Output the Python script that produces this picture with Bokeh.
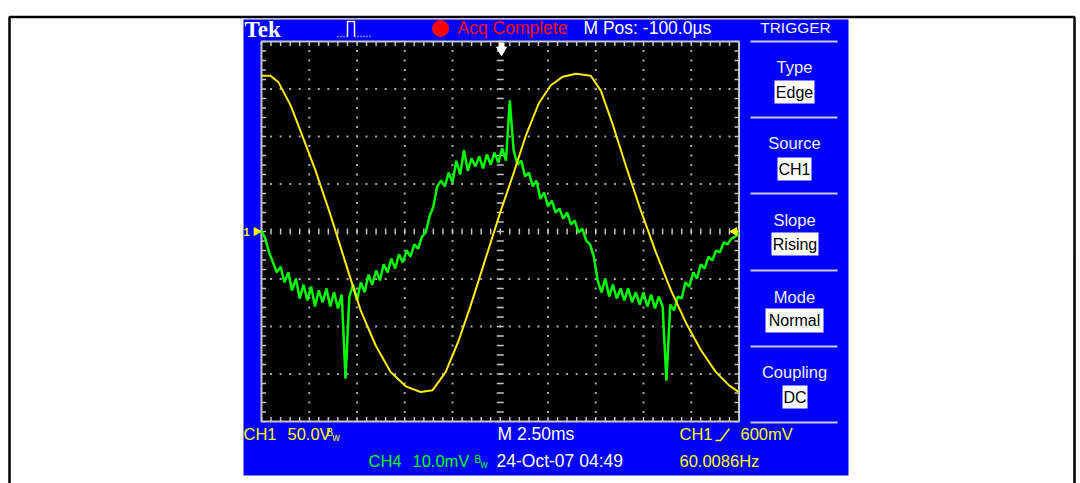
import numpy as np
from bokeh.plotting import figure
from bokeh.models import Range1d, Label
from bokeh.embed import file_html
from bokeh.resources import INLINE

# CH1 (yellow): time in ms, voltage in V (50.0 V/div)
ch1_t = [-12.5, -12.03, -11.61, -10.98, -10.46, -9.67, -8.88, -8.10, -7.31, -6.52,
         -5.74, -4.95, -4.17, -3.54, -2.86, -2.18, -1.55, -0.76, 0.03, 0.66,
         1.34, 2.02, 2.65, 3.28, 3.96, 4.74, 5.27, 5.90, 6.58, 7.36,
         8.15, 8.94, 9.72, 10.51, 11.29, 11.98, 12.5]
ch1_v = [164, 164, 157, 133, 106, 64, 17, -33, -83, -120,
         -148, -163, -169, -167, -148, -115, -78, -28, 22, 59,
         101, 135, 154, 163, 166, 164, 148, 112, 69, 22,
         -22, -62, -96, -125, -148, -162, -169]

# CH4 (green): sampled every 0.2 ms, value in mV (10.0 mV/div)
ch4_t = np.round(np.arange(126) * 0.2 - 12.5, 1)
ch4_mv = [0.2, -1.5, -4.4, -6.5, -8.6, -7.4, -10.7, -8.6, -12.4, -9.9,
          -14.1, -11.2, -14.5, -11.6, -15.8, -12.4, -14.9, -12.0, -15.8, -12.8,
          -16.2, -13.3, -31.0, -13.7, -11.2, -14.5, -10.7, -12.8, -9.1, -11.2,
          -8.2, -10.3, -6.9, -8.6, -5.7, -7.8, -4.8, -6.5, -4.0, -5.3,
          -2.7, -3.6, -1.1, -0.2, 3.2, 5.3, 9.5, 10.7, 9.5, 12.4,
          10.3, 14.9, 12.0, 17.1, 12.8, 15.4, 13.7, 15.8, 13.3, 16.2,
          14.1, 16.6, 14.5, 17.5, 14.9, 27.6, 17.1, 14.1, 14.9, 11.6,
          12.4, 9.5, 10.7, 6.9, 8.2, 5.3, 6.5, 4.0, 4.8, 2.7,
          4.0, 1.5, 2.3, -0.2, 0.6, -1.9, -2.7, -5.3, -10.3, -12.8,
          -9.9, -13.7, -11.2, -14.1, -12.0, -14.5, -12.0, -14.9, -12.8, -15.4,
          -12.8, -15.8, -13.3, -16.2, -13.7, -15.8, -31.4, -15.4, -16.6, -13.7,
          -14.1, -10.7, -11.6, -8.6, -9.9, -6.9, -7.8, -5.3, -6.1, -4.0,
          -4.4, -2.3, -2.7, -1.5, -1.1, -0.2]

# screen texts
top_texts = ["Acq Complete", "M Pos: -100.0\u00b5s"]
menu_title = "TRIGGER"
menu_labels = ["Type", "Source", "Slope", "Mode", "Coupling"]
menu_values = ["Edge", "CH1", "Rising", "Normal", "DC"]

# ---------------- layout helpers (page pixels -> data units) ----------------
W, H = 1080, 483
X0, PX_MS = 499.75, 19.1        # page x of t=0, px per ms (47.75 px / 2.5 ms)
Y0, PX_V = 231.0, 0.95          # page y of 0 V, px per V (47.5 px / 50 V)


def sx(px):
    return (px - X0) / PX_MS


def sy(py):
    return (Y0 - py) / PX_V


p = figure(width=W, height=H, x_range=Range1d(sx(0), sx(W)),
           y_range=Range1d(sy(H), sy(0)),
           x_axis_type=None, y_axis_type=None, title=None,
           toolbar_location=None, output_backend="svg", min_border=0,
           background_fill_color="white", border_fill_color="white",
           outline_line_color=None)
p.extra_y_ranges = {"ch4": Range1d(sy(H) / 5.0, sy(0) / 5.0)}

FONT = "Liberation Sans"

# outer black box
p.quad(left=sx(9), right=sx(1074), top=sy(16.5), bottom=sy(500),
       fill_color=None, line_color="black", line_width=2.5)
# blue screen
p.quad(left=sx(243), right=sx(848), top=sy(19), bottom=sy(475),
       fill_color="#0000ff", line_color=None)

# graticule
GT0, GT1, GV0, GV1 = -12.5, 12.5, -200.0, 200.0
p.quad(left=GT0, right=GT1, top=GV1, bottom=GV0, fill_color="black",
       line_color="#c4c4c4", line_width=2)

major_t = [-10, -7.5, -5, -2.5, 2.5, 5, 7.5, 10]
major_v = [-150, -100, -50, 50, 100, 150]
minor_t = np.arange(-12.5, 12.51, 0.5)
minor_v = np.arange(-200, 201, 10)
GRID_C = "#a8a8a8"
# dotted division lines: a dot every 1/5 division
dots_x = [t for t in major_t for v in minor_v[1:-1]] + [t for v in major_v for t in minor_t[1:-1]]
dots_y = [v for t in major_t for v in minor_v[1:-1]] + [v for v in major_v for t in minor_t[1:-1]]
p.scatter(x=dots_x, y=dots_y, marker="square", size=2, fill_color=GRID_C, line_color=None)

TL_T, TL_V = 4.5 / PX_MS, 4.5 / PX_V
TICK_C = "#c4c4c4"
p.segment(x0=minor_t, y0=GV1, x1=minor_t, y1=GV1 - TL_V, line_color=TICK_C, line_width=1.5)
p.segment(x0=minor_t, y0=GV0, x1=minor_t, y1=GV0 + TL_V, line_color=TICK_C, line_width=1.5)
p.segment(x0=GT0, y0=minor_v, x1=GT0 + TL_T, y1=minor_v, line_color=TICK_C, line_width=1.5)
p.segment(x0=GT1, y0=minor_v, x1=GT1 - TL_T, y1=minor_v, line_color=TICK_C, line_width=1.5)
# center cross marks
p.segment(x0=-3.5 / PX_MS, y0=minor_v, x1=3.5 / PX_MS, y1=minor_v, line_color=TICK_C, line_width=1.5)
p.segment(x0=minor_t, y0=-3 / PX_V, x1=minor_t, y1=3 / PX_V, line_color=TICK_C, line_width=1.5)

# traces
p.line(ch4_t, ch4_mv, y_range_name="ch4", line_color="#00ff00", line_width=2.5)
p.line(ch1_t, ch1_v, line_color="#ffee00", line_width=2)

# markers on graticule
p.scatter(x=[sx(256)], y=[sy(231)], marker="triangle", angle=-np.pi / 2,
          size=8, fill_color="#ffff00", line_color="#ffff00")
p.scatter(x=[sx(734)], y=[sy(231)], marker="triangle", angle=np.pi / 2,
          size=8, fill_color="#ffff00", line_color="#ffff00")
p.quad(left=sx(498), right=sx(504), top=sy(42), bottom=sy(47),
       fill_color="white", line_color=None)
p.scatter(x=[sx(501)], y=[sy(49.5)], marker="inverted_triangle", size=10,
          fill_color="white", line_color="white")

# top status icons
p.scatter(x=[sx(440)], y=[sy(28)], marker="circle", size=16,
          fill_color="#ff0000", line_color="#ff0000")
p.line(x=[sx(337), sx(347)], y=[sy(36), sy(36)], line_color="white", line_width=1.5, line_dash="1 2")
p.line(x=[sx(347), sx(347), sx(354), sx(354)], y=[sy(36), sy(21), sy(21), sy(36)],
       line_color="white", line_width=1.5)
p.line(x=[sx(354), sx(372)], y=[sy(36), sy(36)], line_color="white", line_width=1.5, line_dash="1 2")

# menu separators
sep_y = [41, 117, 193, 270, 346, 422]
p.segment(x0=sx(750), y0=[sy(v) for v in sep_y], x1=sx(837), y1=[sy(v) for v in sep_y],
          line_color="#c8c8d8", line_width=2)

# value boxes
box_l = [774, 777, 771, 765, 782]
box_r = [814, 811, 818, 823, 807]
box_t = [80, 157, 232, 308, 385]
box_b = [103, 180, 255, 332, 408]
p.quad(left=[sx(v) for v in box_l], right=[sx(v) for v in box_r],
       top=[sy(v) for v in box_t], bottom=[sy(v) for v in box_b],
       fill_color="white", line_color=None)

# trigger slope symbol
p.line(x=[sx(715), sx(720), sx(729)], y=[sy(440), sy(440), sy(428)],
       line_color="#ffff00", line_width=1.5)


def txt(s, px, py, color="#ffffff", size=17, align="left", font=FONT, style="normal"):
    p.add_layout(Label(x=sx(px), y=sy(py), text=s, text_color=color,
                       text_font_size=f"{size}px", text_align=align,
                       text_baseline="middle", text_font=font,
                       text_font_style=style))


txt("Tek", 244, 29, size=23, font="Liberation Serif", style="bold")
txt(top_texts[0], 457, 27.5, color="#ff0000", size=17.5)
txt(top_texts[1], 583, 27.5, size=17.5)
txt(menu_title, 795, 27, color="#f0f0ff", size=15.5, align="center")

label_mid = [66, 142.5, 219, 296, 371.5]
for lab, m in zip(menu_labels, label_mid):
    txt(lab, 794, m, color="#f0f0ff", size=16.5, align="center")
for val, l, r, t, b in zip(menu_values, box_l, box_r, box_t, box_b):
    txt(val, (l + r) / 2, (t + b) / 2, color="black", size=16, align="center")

txt("1", 243, 231, color="#ffff00", size=11, style="bold")

Y1, Y2 = 433.5, 460.5
txt("CH1", 243, Y1, color="#ffff00", size=16.5)
txt("50.0V", 287, Y1, color="#ffff00", size=16.5)
txt("B", 326, Y1 - 2, color="#ffff00", size=10)
txt("w", 332, Y1 + 3, color="#ffff00", size=10)
txt("M 2.50ms", 497, Y1, size=17.5)
txt("CH1", 679, Y1, color="#ffff00", size=16.5)
txt("600mV", 740, Y1, color="#ffff00", size=16.5)
txt("CH4", 368, Y2, color="#00ff00", size=16.5)
txt("10.0mV", 412, Y2, color="#00ff00", size=16.5)
txt("B", 474, Y2 - 2, color="#00ff00", size=10)
txt("w", 480, Y2 + 3, color="#00ff00", size=10)
txt("24-Oct-07 04:49", 496, Y2, size=17.5)
txt("60.0086Hz", 679, Y2, color="#ffff00", size=16.5)

open("out.html", "w").write(file_html(p, INLINE))
